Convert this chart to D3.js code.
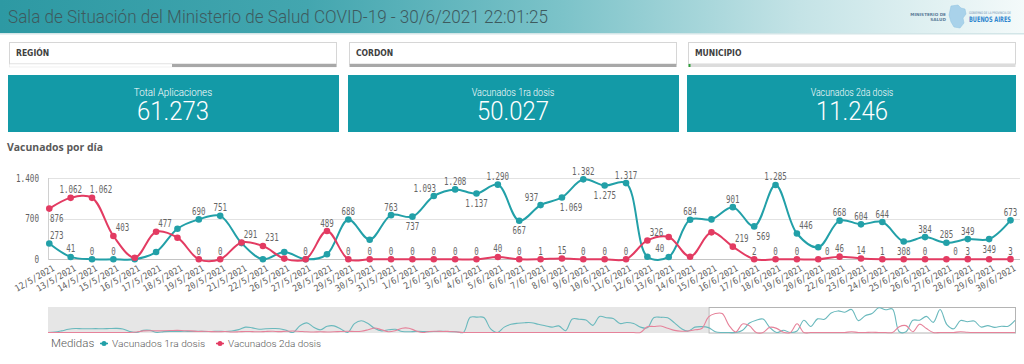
<!DOCTYPE html>
<html><head><meta charset="utf-8">
<script src="https://cdn.jsdelivr.net/npm/d3@7"></script>
<style>body{margin:0;background:#fff;overflow:hidden}svg{display:block}</style>
</head><body>
<svg id="c" width="1024" height="364"></svg>
<script>
// ---------- data ----------
const fechas = ["12/5/2021","13/5/2021","14/5/2021","15/5/2021","16/5/2021","17/5/2021","18/5/2021","19/5/2021","20/5/2021","21/5/2021","22/5/2021","26/5/2021","27/5/2021","28/5/2021","29/5/2021","30/5/2021","31/5/2021","1/6/2021","2/6/2021","3/6/2021","4/6/2021","5/6/2021","6/6/2021","7/6/2021","8/6/2021","9/6/2021","10/6/2021","11/6/2021","12/6/2021","13/6/2021","14/6/2021","15/6/2021","16/6/2021","17/6/2021","18/6/2021","19/6/2021","20/6/2021","22/6/2021","23/6/2021","24/6/2021","25/6/2021","26/6/2021","27/6/2021","28/6/2021","29/6/2021","30/6/2021"];
const vacunados1 = [273,41,0,0,0,126,529,690,751,280,0,126,0,86,688,339,763,737,1093,1208,1137,1290,667,937,1069,1382,1275,1317,45,40,684,690,901,569,1285,446,207,668,604,644,308,384,285,349,349,673];
const vacunados2 = [876,1062,1062,403,28,477,373,0,0,291,231,12,0,489,0,0,0,0,0,0,0,40,0,1,15,0,0,0,326,385,45,466,219,2,0,0,0,46,14,1,0,0,0,3,0,3];
// label placement: a = above, b = below, '' = hidden, > / < = nudged right / left
const etiquetas1 = ['a','a','a','a','','','','a','a','','','','','','a','','a','b','a<','a','b','a','b','a<','b>','a','b','a','','a<','a','','a','b>','a','a>','','a','a','a','b','a','a','a','b','a'];
const etiquetas2 = ['b','a','a>','a>','','a>','','a','a','a>','a>','','a','a','a','a','a','a','a','a','a','a','a','a','a','a','a','a','a>','','','','a>','a','a','a','a>','a','a','a','','a','a>','a','','a'];
// earlier history shown in the overview strip (estimated)
const historia1 = [0,20,90,180,220,210,210,215,210,220,230,200,60,0,120,120,0,50,60,60,70,60,70,60,60,70,60,80,160,300,260,180,210,220,210,120,0,380,540,300,150,350,370,200,0,500,660,500,220,90,150,180,60,40,60,60,50,60,70,50,40,0,850,860,840,200,0,300,460,520,550,550,460,380,300,370,100,760,740,700,400,900,830,780,500,560,500,300,260,840,850,820,540,220,80,300,330];
const historia2 = [0,0,0,0,0,0,0,0,0,0,0,0,0,30,90,100,90,100,110,120,100,90,60,70,50,40,60,30,40,60,50,40,60,70,50,70,80,60,40,30,40,30,40,60,70,60,70,150,250,150,40,100,240,240,100,0,60,70,60,60,30,0,0,0,0,0,0,0,0,0,0,0,0,0,0,0,0,0,0,0,0,0,0,0,0,0,0,0,320,340,360,240,120,70,80,150,220];
const ticksY = [0,700,1400];
const series = ["Vacunados 1ra dosis","Vacunados 2da dosis"];
const kpiTitulos = ["Total Aplicaciones","Vacunados 1ra dosis","Vacunados 2da dosis"];
const kpiValores = ["61.273","50.027","11.246"];
const filtros = ["REGIÓN","CORDON","MUNICIPIO"];
const titulo = "Sala de Situación del Ministerio de Salud COVID-19 - 30/6/2021 22:01:25";

// ---------- drawing ----------
const TEAL = "#22a0a8", RED = "#e33b62", GREY = "#5f5f5f";
const MONO = "'DejaVu Sans Mono', monospace";
const svg = d3.select("#c");
const defs = svg.append("defs");
const gr = defs.append("linearGradient").attr("id","hdr").attr("x1",0).attr("x2",1).attr("y1",0).attr("y2",0);
[[0,"#2d99a3"],[0.3,"#43a6af"],[0.55,"#7cc3c9"],[0.78,"#c4e3e6"],[1,"#f4fafa"]].forEach(s=>gr.append("stop").attr("offset",s[0]).attr("stop-color",s[1]));
svg.append("rect").attr("width",1024).attr("height",33).attr("fill","url(#hdr)");
svg.append("rect").attr("y",33).attr("width",1024).attr("height",1.5).attr("fill","#d3e6e8");
svg.append("text").attr("x",8).attr("y",23).attr("font-family","Roboto").attr("font-weight",300)
  .attr("font-size",18).attr("fill","#3e5a5e").attr("textLength",540).attr("lengthAdjust","spacingAndGlyphs").text(titulo);

// logo
const logo = svg.append("g");
logo.append("text").attr("x",946).attr("y",16).attr("text-anchor","end").attr("font-family","DejaVu Sans").attr("font-weight","bold").attr("font-size",4.2).attr("fill","#5c7d99").text("MINISTERIO DE");
logo.append("text").attr("x",946).attr("y",21).attr("text-anchor","end").attr("font-family","DejaVu Sans").attr("font-weight","bold").attr("font-size",4.2).attr("fill","#5c7d99").text("SALUD");
logo.append("path").attr("d","M951,6 L958,5 L961,8 L965,9 L966,14 L963,18 L964,23 L960,28 L954,27 L951,22 L949,15 Z").attr("fill","#a9d2ea").attr("stroke","#8fc2e0").attr("stroke-width",0.5);
logo.append("text").attr("x",969).attr("y",14).attr("font-family","DejaVu Sans").attr("font-size",3.4).attr("fill","#6a8fb0").attr("textLength",42).attr("lengthAdjust","spacingAndGlyphs").text("GOBIERNO DE LA PROVINCIA DE");
logo.append("text").attr("x",969).attr("y",21.5).attr("font-family","DejaVu Sans Condensed").attr("font-weight","bold").attr("font-size",7.5).attr("fill","#2f86cf").attr("textLength",42).attr("lengthAdjust","spacingAndGlyphs").text("BUENOS AIRES");

// filters and KPIs
const colX = [8,348,687], colW = 330;
filtros.forEach((f,i)=>{
  const x0 = colX[i]+1, w = colW-3;
  svg.append("rect").attr("x",x0+0.5).attr("y",42.5).attr("width",w).attr("height",21.5).attr("fill","#fff").attr("stroke","#d6d6d6");
  svg.append("text").attr("x",x0+7).attr("y",56).attr("font-family","DejaVu Sans Condensed").attr("font-weight","bold")
    .attr("font-size",8.5).attr("fill","#404040").text(f);
  if(i===0){
    svg.append("rect").attr("x",x0+0.5).attr("y",64).attr("width",w).attr("height",3).attr("fill","#fff").attr("stroke","#e3e3e3").attr("stroke-width",0.5);
    svg.append("rect").attr("x",172).attr("y",64).attr("width",x0+w-172+0.5).attr("height",3).attr("fill","#a8a8a8");
  } else if(i===1){
    svg.append("rect").attr("x",x0+0.5).attr("y",64).attr("width",w).attr("height",3).attr("fill","#a8a8a8");
  } else {
    svg.append("rect").attr("x",x0+0.5).attr("y",64).attr("width",w).attr("height",3).attr("fill","#dcdcdc");
    svg.append("rect").attr("x",x0+0.5).attr("y",64).attr("width",2).attr("height",3).attr("fill","#2e9e3a");
  }
});
kpiTitulos.forEach((t,i)=>{
  const x0 = colX[i];
  svg.append("rect").attr("x",x0).attr("y",75).attr("width",colW+ (i===2?-1:1)).attr("height",57).attr("fill","#139aa7");
  const cx = x0 + colW/2;
  svg.append("text").attr("x",cx).attr("y",95.5).attr("text-anchor","middle").attr("font-family","Roboto").attr("font-weight",300)
    .attr("font-size",10).attr("fill","#fff").attr("textLength",t.length*4.35).attr("lengthAdjust","spacingAndGlyphs").text(t);
  svg.append("text").attr("x",cx).attr("y",120).attr("text-anchor","middle").attr("font-family","Roboto").attr("font-weight",300)
    .attr("font-size",25).attr("fill","#fff").attr("textLength",72).attr("lengthAdjust","spacingAndGlyphs").text(kpiValores[i]);
});

// chart title
svg.append("text").attr("x",7).attr("y",151).attr("font-family","'Open Sans'").attr("font-weight",700)
  .attr("font-size",10.5).attr("fill","#595959").attr("textLength",96).attr("lengthAdjust","spacingAndGlyphs").text("Vacunados por día");

// scales
const x = d3.scalePoint().domain(fechas).range([49.3,1010.5]);
const y = d3.scaleLinear().domain([0,1400]).range([259.3,178.3]);
const fmt = d3.formatLocale({decimal:",",thousands:".",grouping:[3],currency:["$",""]}).format(",d");

// grid
svg.append("g").selectAll("line").data(ticksY).join("line")
  .attr("x1",48).attr("x2",1020).attr("y1",d=>Math.round(y(d))+0.5).attr("y2",d=>Math.round(y(d))+0.5)
  .attr("stroke",d=>d===0?"#c4c4c4":"#e2e2e2");
svg.append("line").attr("x1",48.5).attr("x2",48.5).attr("y1",178).attr("y2",260).attr("stroke","#d0d0d0");
svg.append("g").selectAll("text").data(ticksY).join("text")
  .attr("x",39).attr("y",d=>y(d)+3.5).attr("text-anchor","end").attr("font-family",MONO).attr("font-size",10)
  .attr("fill",GREY).attr("textLength",d=>fmt(d).length*4.6).attr("lengthAdjust","spacingAndGlyphs").text(d=>fmt(d));

// x axis labels
svg.append("g").selectAll("text").data(fechas).join("text")
  .attr("transform",d=>`translate(${x(d)+6},${270}) rotate(-30)`).attr("text-anchor","end")
  .attr("font-family",MONO).attr("font-size",9).attr("fill",GREY)
  .attr("textLength",d=>d.length*4.9).attr("lengthAdjust","spacingAndGlyphs").text(d=>d);

// lines
const line = d3.line().x((d,i)=>x(fechas[i])).y(d=>y(d)).curve(d3.curveCatmullRom);
[[vacunados1,TEAL],[vacunados2,RED]].forEach(([vals,col])=>{
  svg.append("path").attr("d",line(vals)).attr("fill","none").attr("stroke",col).attr("stroke-width",2);
  svg.append("g").selectAll("circle").data(vals).join("circle")
    .attr("cx",(d,i)=>x(fechas[i])).attr("cy",d=>y(d)).attr("r",3.3).attr("fill",col);
});

// value labels
function labels(vals,pos){
  const g = svg.append("g");
  vals.forEach((v,i)=>{
    const p = pos[i]; if(!p) return;
    const t = fmt(v), w = t.length*4.5;
    let cx = x(fechas[i]) + (p.includes(">")?9:p.includes("<")?-9:0);
    cx = Math.max(49+w/2+1, Math.min(1021-w/2, cx));
    const yb = p[0]==="a" ? y(v)-4.5 : y(v)+13.5;
    g.append("text").attr("x",cx).attr("y",yb).attr("text-anchor","middle").attr("font-family",MONO)
      .attr("font-size",10).attr("fill","#666").attr("textLength",w).attr("lengthAdjust","spacingAndGlyphs").text(t);
  });
}
labels(vacunados1,etiquetas1);
labels(vacunados2,etiquetas2);

// overview strip
const todo1 = historia1.concat(vacunados1), todo2 = historia2.concat(vacunados2);
const xm = d3.scalePoint().domain(d3.range(todo1.length)).range([48,1015]);
const ym = d3.scaleLinear().domain([0,1400]).range([332.5,307.5]);
const xSel = xm(historia1.length);
svg.append("rect").attr("x",48).attr("y",307).attr("width",xSel-48).attr("height",26).attr("fill","#e6e6e6");
svg.append("rect").attr("x",xSel+0.5).attr("y",307.5).attr("width",1015-xSel).attr("height",25.5).attr("fill","#fff").attr("stroke","#b4b4b4");
const lm = d3.line().x((d,i)=>xm(i)).y(d=>ym(d)).curve(d3.curveCatmullRom);
svg.append("path").attr("d",lm(todo1)).attr("fill","none").attr("stroke","#6ab9bd").attr("stroke-width",1.1);
svg.append("path").attr("d",lm(todo2)).attr("fill","none").attr("stroke","#e6829a").attr("stroke-width",1.1);

// legend
svg.append("text").attr("x",51).attr("y",347).attr("font-family","Roboto").attr("font-weight",300).attr("font-size",11.5)
  .attr("fill","#595959").text("Medidas");
const legX = [104,220];
series.forEach((s,i)=>{
  const col = i===0?TEAL:RED;
  svg.append("line").attr("x1",legX[i]-4).attr("x2",legX[i]+4).attr("y1",343.5).attr("y2",343.5).attr("stroke",col).attr("stroke-width",1.5);
  svg.append("circle").attr("cx",legX[i]).attr("cy",343.5).attr("r",2.5).attr("fill",col);
  svg.append("text").attr("x",legX[i]+8).attr("y",347).attr("font-family","Roboto").attr("font-weight",300).attr("font-size",9.5)
    .attr("fill","#595959").attr("textLength",s.length*4.9).attr("lengthAdjust","spacingAndGlyphs").text(s);
});
</script>
</body></html>
